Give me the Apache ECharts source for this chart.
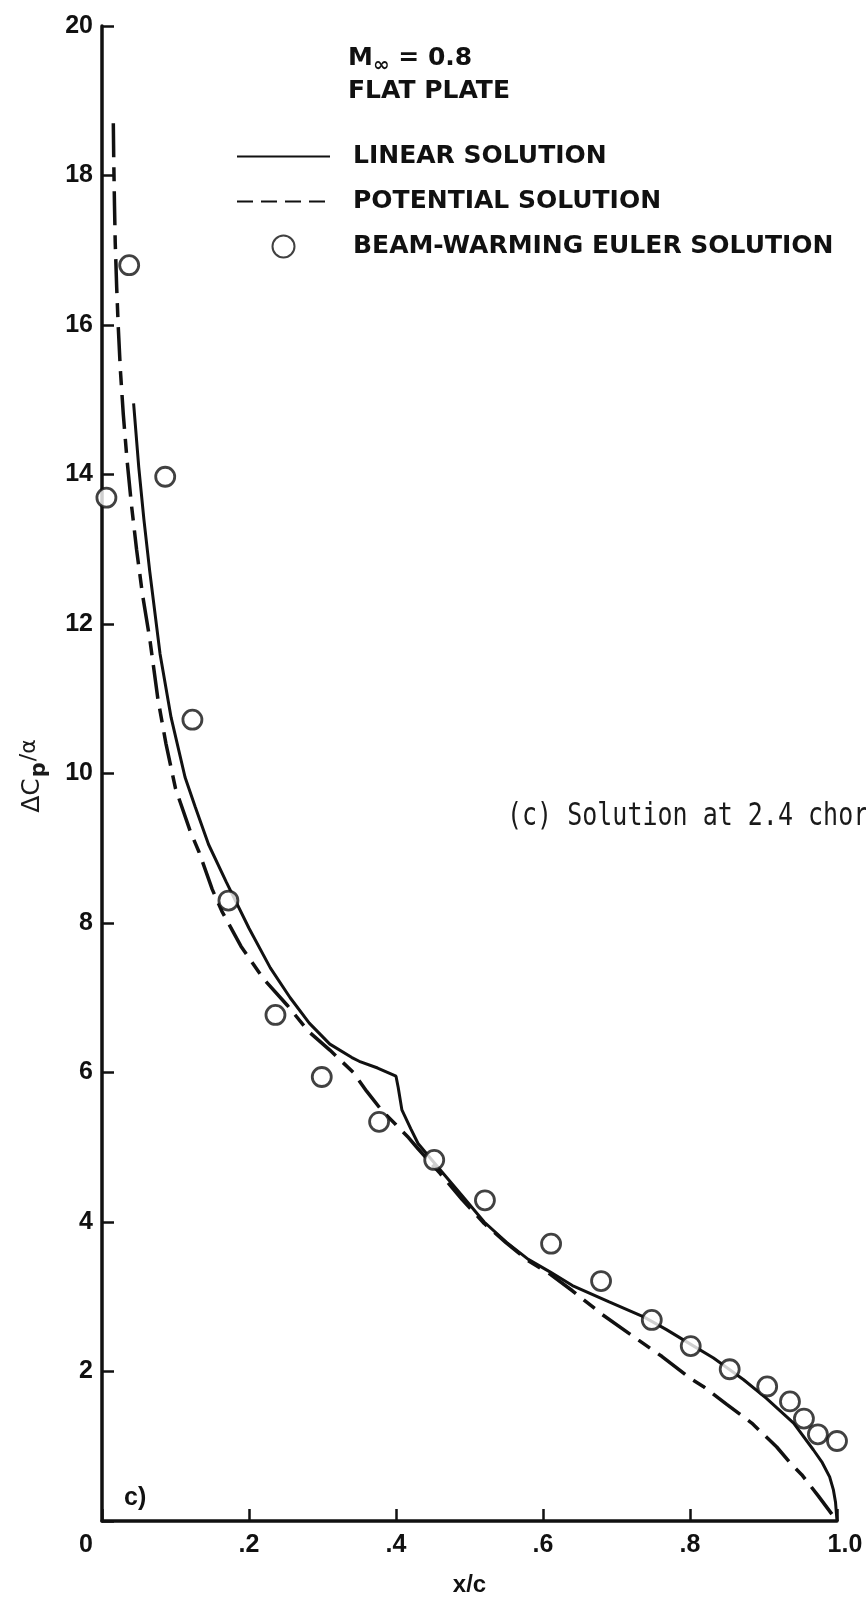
<!DOCTYPE html>
<html>
<head>
<meta charset="utf-8">
<script src="https://cdn.jsdelivr.net/npm/echarts@6/dist/echarts.min.js"></script>
<style>
  html, body { margin: 0; padding: 0; background: #ffffff; }
  #chart { width: 866px; height: 1603px; }
</style>
</head>
<body>
<div id="chart"></div>
<script>
// ---- data ----
const xTickValues = [0, 0.2, 0.4, 0.6, 0.8, 1.0];
const xTickLabels = ['0', '.2', '.4', '.6', '.8', '1.0'];
const yTickLabels = ['', '2', '4', '6', '8', '10', '12', '14', '16', '18', '20'];

const linearX = [0.043, 0.050, 0.057, 0.065, 0.079, 0.094, 0.113, 0.127, 0.145, 0.169, 0.200, 0.229, 0.256, 0.282, 0.310, 0.340, 0.350, 0.375, 0.400, 0.403, 0.408, 0.420, 0.430, 0.460, 0.490, 0.520, 0.550, 0.580, 0.610, 0.640, 0.690, 0.737, 0.768, 0.800, 0.832, 0.873, 0.904, 0.941, 0.968, 0.980, 0.990, 0.995, 0.998, 1.000];
const linearY = [14.95, 14.1, 13.4, 12.7, 11.6, 10.75, 9.95, 9.55, 9.05, 8.55, 7.93, 7.40, 7.0, 6.66, 6.38, 6.2, 6.15, 6.06, 5.95, 5.8, 5.5, 5.25, 5.05, 4.70, 4.35, 4.0, 3.73, 3.5, 3.33, 3.15, 2.93, 2.73, 2.56, 2.37, 2.18, 1.89, 1.64, 1.31, 0.95, 0.78, 0.59, 0.42, 0.25, 0.0];

const potentialX = [0.0154, 0.016, 0.017, 0.018, 0.020, 0.022, 0.025, 0.029, 0.034, 0.040, 0.047, 0.055, 0.065, 0.076, 0.087, 0.100, 0.120, 0.132, 0.150, 0.163, 0.189, 0.220, 0.252, 0.281, 0.310, 0.342, 0.360, 0.380, 0.400, 0.417, 0.430, 0.460, 0.490, 0.520, 0.550, 0.580, 0.610, 0.640, 0.681, 0.730, 0.762, 0.800, 0.818, 0.850, 0.884, 0.918, 0.936, 0.952, 0.975, 1.000];
const potentialY = [18.7, 18.2, 17.6, 17.1, 16.5, 16.0, 15.4, 14.8, 14.2, 13.6, 13.0, 12.4, 11.8, 11.0, 10.4, 9.8, 9.23, 8.95, 8.45, 8.16, 7.69, 7.25, 6.9, 6.55, 6.3, 6.0, 5.75, 5.5, 5.3, 5.13, 4.98, 4.65, 4.3, 3.98, 3.72, 3.48, 3.3, 3.08, 2.76, 2.42, 2.2, 1.91, 1.80, 1.56, 1.31, 0.99, 0.78, 0.62, 0.33, 0.0];

const eulerX = [0.006, 0.037, 0.086, 0.123, 0.172, 0.236, 0.299, 0.377, 0.452, 0.521, 0.611, 0.679, 0.748, 0.801, 0.854, 0.905, 0.936, 0.955, 0.974, 1.000];
const eulerY = [13.69, 16.8, 13.97, 10.72, 8.30, 6.77, 5.94, 5.34, 4.83, 4.29, 3.71, 3.21, 2.69, 2.34, 2.03, 1.80, 1.60, 1.37, 1.16, 1.07];

const seriesNames = ['LINEAR SOLUTION', 'POTENTIAL SOLUTION', 'BEAM-WARMING EULER SOLUTION'];

// ---- build ----
const pairs = (xs, ys) => xs.map((x, i) => [x, ys[i]]);
const INK = '#111111';
const FONT = 'DejaVu Sans';
const TICKFONT = 'Liberation Sans';
const hiddenSymbol = { color: 'rgba(0,0,0,0)', borderWidth: 0, opacity: 0 };

const chart = echarts.init(document.getElementById('chart'), null, { renderer: 'canvas' });

chart.setOption({
  backgroundColor: '#ffffff',
  animation: false,
  grid: { left: 102, right: 29, top: 26, bottom: 82, containLabel: false },
  xAxis: {
    type: 'value', min: 0, max: 1, interval: 0.2,
    axisLine: { show: true, lineStyle: { color: INK, width: 3.5 } },
    axisTick: { show: true, inside: true, length: 12, lineStyle: { color: INK, width: 2.5 } },
    splitLine: { show: false },
    axisLabel: {
      margin: 12, color: INK, fontFamily: TICKFONT, fontWeight: 'bold', fontSize: 25,
      formatter: function (v) {
        const i = xTickValues.findIndex(t => Math.abs(t - v) < 1e-6);
        const s = i >= 0 ? xTickLabels[i] : '';
        if (i === 0) return '{z|' + s + '}';
        if (i === xTickValues.length - 1) return '{o|' + s + '}';
        return s;
      },
      rich: {
        z: { fontFamily: TICKFONT, fontWeight: 'bold', fontSize: 25, color: INK, padding: [0, 32, 0, 0] },
        o: { fontFamily: TICKFONT, fontWeight: 'bold', fontSize: 25, color: INK, padding: [0, 0, 0, 16] }
      }
    },
    name: 'x/c', nameLocation: 'middle', nameGap: 52,
    nameTextStyle: { color: INK, fontFamily: TICKFONT, fontWeight: 'bold', fontSize: 24 }
  },
  yAxis: {
    type: 'value', min: 0, max: 20, interval: 2,
    axisLine: { show: true, lineStyle: { color: INK, width: 3.5 } },
    axisTick: { show: true, inside: true, length: 12, lineStyle: { color: INK, width: 2.5 } },
    splitLine: { show: false },
    axisLabel: {
      margin: 9, color: INK, fontFamily: TICKFONT, fontWeight: 'bold', fontSize: 25,
      formatter: function (v) { return yTickLabels[Math.round(v / 2)] || ''; }
    }
  },
  legend: {
    orient: 'vertical', left: 231, top: 139, itemWidth: 93, itemHeight: 22, itemGap: 20,
    data: [
      { name: seriesNames[0], itemStyle: hiddenSymbol },
      { name: seriesNames[1], itemStyle: hiddenSymbol, lineStyle: { type: [16, 8] } },
      { name: seriesNames[2] }
    ],
    formatter: '{t|{name}}',
    textStyle: {
      color: INK,
      rich: { t: { fontFamily: FONT, fontWeight: 'bold', fontSize: 25, color: INK, lineHeight: 30, padding: [0, 0, 0, 18] } }
    },
    selectedMode: false
  },
  graphic: [
    {
      type: 'text', x: 348, y: 58,
      style: {
        text: '{b|M}{s|\u221e}{b| = 0.8}',
        verticalAlign: 'middle', align: 'left',
        rich: {
          b: { fontFamily: FONT, fontWeight: 'bold', fontSize: 25, lineHeight: 28, fill: INK },
          s: { fontFamily: FONT, fontWeight: 'bold', fontSize: 20, lineHeight: 18, padding: [16, 0, 0, 0], fill: INK }
        }
      }
    },
    {
      type: 'text', x: 348, y: 91,
      style: { text: 'FLAT PLATE', verticalAlign: 'middle', align: 'left', font: 'bold 25px "DejaVu Sans"', fill: INK }
    },
    {
      type: 'text', x: 32, y: 776, rotation: Math.PI / 2,
      style: {
        text: '{a|\u0394C}{p|p}{r|/\u03b1}',
        align: 'center', verticalAlign: 'middle',
        rich: {
          a: { fontFamily: FONT, fontSize: 25, lineHeight: 30, fill: '#1a1a1a' },
          p: { fontFamily: FONT, fontWeight: 'bold', fontSize: 21, lineHeight: 20, padding: [16, 1, 0, 1], fill: '#1a1a1a' },
          r: { fontFamily: FONT, fontSize: 22, lineHeight: 30, padding: [0, 0, 6, 0], fill: '#1a1a1a' }
        }
      }
    },
    {
      type: 'text', x: 124, y: 1498,
      style: { text: 'c)', verticalAlign: 'middle', align: 'left', font: 'bold 25px "Liberation Sans"', fill: INK }
    },
    {
      type: 'text', x: 507, y: 817, scaleY: 1.25,
      style: { text: '(c) Solution at 2.4 chords', verticalAlign: 'middle', align: 'left', font: '25px "DejaVu Sans Mono"', fill: '#1a1a1a' }
    }
  ],
  series: [
    {
      name: seriesNames[0], type: 'line', data: pairs(linearX, linearY),
      symbol: 'none', smooth: false, clip: false,
      lineStyle: { color: INK, width: 3 }, itemStyle: { color: INK }, z: 3
    },
    {
      name: seriesNames[1], type: 'line', data: pairs(potentialX, potentialY),
      symbol: 'none', smooth: false, clip: false,
      lineStyle: { color: INK, width: 3.5, type: [34, 10, 14, 10] }, itemStyle: { color: INK }, z: 3
    },
    {
      name: seriesNames[2], type: 'scatter', data: pairs(eulerX, eulerY),
      symbol: 'circle', symbolSize: 19, clip: false,
      itemStyle: { color: '#ffffff', borderColor: INK, borderWidth: 2.8 }, z: 4
    }
  ]
});
</script>
</body>
</html>
